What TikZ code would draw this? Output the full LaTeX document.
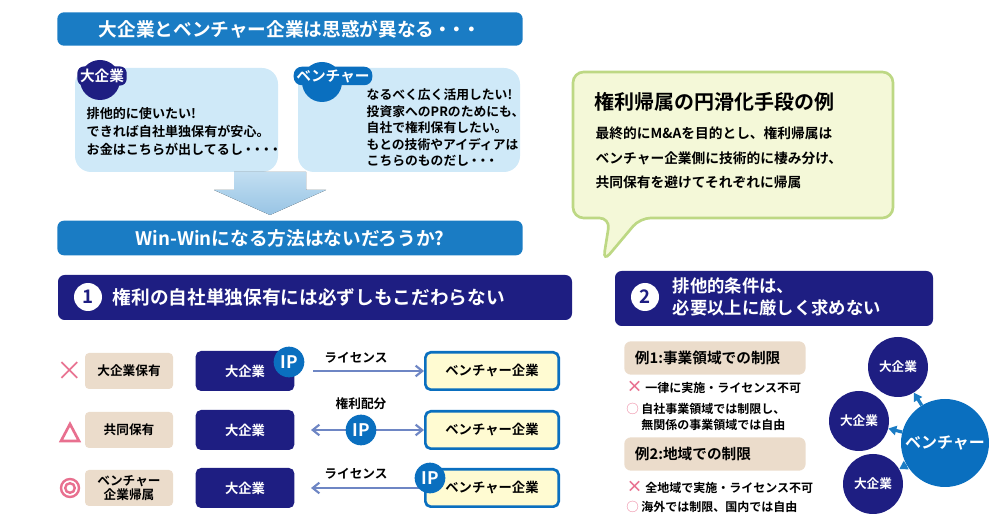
\documentclass[tikz,border=0pt]{standalone}
\usetikzlibrary{arrows.meta}
\usepackage{fontspec}
\setmainfont{Noto Sans CJK JP}
\newfontfamily\jpb{Noto Sans CJK JP Bold}
\definecolor{tblue}{HTML}{1A7CC4}
\definecolor{navy}{HTML}{1E1E82}
\definecolor{lblue}{HTML}{CFE9F8}
\definecolor{beige}{HTML}{EBDCCB}
\definecolor{ylw}{HTML}{FFFBD2}
\definecolor{gfill}{HTML}{F4F8D8}
\definecolor{gline}{HTML}{BDD884}
\definecolor{pink}{HTML}{E8708F}
\definecolor{arr}{HTML}{6E86C4}
\definecolor{ipblue}{HTML}{0A6FBF}
\begin{document}
\begin{tikzpicture}[x=0.75pt,y=-0.75pt,font=\jpb,
 bar/.style={fill=tblue,rounded corners=5pt,text=white,font=\jpb\fontsize{14}{16}\selectfont},
 bub/.style={fill=lblue,rounded corners=12pt},
 bg/.style={fill=beige,rounded corners=3pt,minimum width=66pt,minimum height=27pt,font=\jpb\fontsize{9.5}{10.5}\selectfont,align=center},
 nv/.style={fill=navy,rounded corners=4pt,text=white,minimum width=74pt,minimum height=30pt,font=\jpb\fontsize{10}{11}\selectfont},
 yb/.style={fill=ylw,draw=ipblue,line width=2pt,rounded corners=4pt,minimum width=100pt,minimum height=28pt,font=\jpb\fontsize{10}{11}\selectfont},
 ip/.style={circle,fill=ipblue,text=white,inner sep=0pt,minimum size=23pt,font=\jpb\fontsize{13}{14}\selectfont},
 la/.style={arr,line width=1.6pt,-{Straight Barb[length=5pt,width=8pt]}},
 lab/.style={font=\jpb\fontsize{9.5}{11}\selectfont},
 ex/.style={fill=beige,rounded corners=5pt,minimum width=136pt,minimum height=25pt,font=\jpb\fontsize{11}{12}\selectfont,anchor=west,text width=120pt},
 it/.style={anchor=west,font=\jpb\fontsize{9}{11.5}\selectfont,align=left},
 cn/.style={circle,fill=navy,text=white,minimum size=45pt,inner sep=0pt,font=\jpb\fontsize{9.5}{10}\selectfont},
 ca/.style={tblue,line width=2.4pt,-{Triangle[length=6pt,width=7pt]}}]
\useasboundingbox (0,0) rectangle (990,520);
% top
\node[bar,minimum width=349pt,minimum height=25pt] (t1) at (290,29) {大企業とベンチャー企業は思惑が異なる\kern-1pt・\kern-3pt・\kern-3pt・};
\path[bub] (75,68) rectangle (278,172);
\path[bub] (298,68) rectangle (520,172);
\fill[navy] (100,80) circle (20);
\node[fill=navy,text=white,rounded corners=5pt,inner sep=2pt,font=\jpb\fontsize{11}{12}\selectfont] (b1) at (102,76) {大企業};
\fill[ipblue] (322,82) circle (20);
\node[fill=ipblue,text=white,rounded corners=6pt,inner sep=2pt,font=\jpb\fontsize{11}{12}\selectfont] (b2) at (333,76) {ベンチャー};
\node[anchor=north west,align=left,font=\jpb\fontsize{9.8}{13.5}\selectfont] (q1) at (82,103) {排他的に使いたい!\\できれば自社単独保有が安心。\\お金はこちらが出してるし\kern-1pt・\kern-3pt・\kern-3pt・\kern-3pt・};
\node[anchor=north west,align=left,font=\jpb\fontsize{9.6}{12.4}\selectfont] (q2) at (362,84) {なるべく広く活用したい!\\投資家へのPRのためにも、\\自社で権利保有したい。\\もとの技術やアイディアは\\こちらのものだし\kern-1pt・\kern-3pt・\kern-3pt・};
\fill[top color=lblue!70!tblue!60,bottom color=tblue!45] (234,172) -- (306,172) -- (306,190) -- (326,190) -- (270,215) -- (214,190) -- (234,190) -- cycle;
\node[bar,minimum width=349pt,minimum height=26pt] (t2) at (290,238) {Win-Winになる方法はないだろうか?};
% callout
\draw[gline,fill=gfill,line width=2pt,rounded corners=8pt] (573,72) -- (893,72) -- (893,218) -- (640,218) -- (603,262) -- (610,218) -- (573,218) -- cycle;
\node[anchor=west,font=\jpb\fontsize{15}{17}\selectfont] (ct) at (590,102) {権利帰属の円滑化手段の例};
\node[anchor=north west,align=left,font=\jpb\fontsize{10.3}{18.5}\selectfont] (cb) at (591,122) {最終的にM\&Aを目的とし、権利帰属は\\ベンチャー企業側に技術的に棲み分け、\\共同保有を避けてそれぞれに帰属};
% section 1
\fill[navy,rounded corners=5pt] (58,275) rectangle (572,320);
\fill[white] (88,297) circle (14);
\node[text=navy,font=\jpb\fontsize{14}{15}\selectfont] (n1) at (88,297) {1};
\node[anchor=west,text=white,font=\jpb\fontsize{14}{16}\selectfont] (s1) at (108,297) {権利の自社単独保有には必ずしもこだわらない};
% section 2
\fill[navy,rounded corners=5pt] (615,271) rectangle (933,326);
\fill[white] (645,297) circle (14);
\node[text=navy,font=\jpb\fontsize{14}{15}\selectfont] (n2) at (645,297) {2};
\node[anchor=west,align=left,text=white,font=\jpb\fontsize{13}{16}\selectfont] (s2) at (668,297) {排他的条件は、\\必要以上に厳しく求めない};
% rows
\node[text=pink,font=\fontsize{20}{20}\selectfont] (m1) at (70,371) {×};
\node[bg] (g1) at (129,371) {大企業保有};
\node[nv] (a1) at (245,371) {大企業};
\node[ip] (i1) at (289,362) {IP};
\node[yb] (v1) at (492,371) {ベンチャー企業};
\coordinate (s1a) at (313,371);
\draw[la] (s1a) -- (v1.west);
\node[lab] (l1) at (356,358) {ライセンス};

\draw[pink,line width=2pt] (61,441) -- (70,424) -- (79,441) -- cycle;
\node[bg] (g2) at (129,430) {共同保有};
\node[nv] (a2) at (245,430) {大企業};
\node[yb] (v2) at (492,430) {ベンチャー企業};
\coordinate (ipc) at (361,430);
\coordinate (a2e) at (311,430);
\draw[la] (ipc) -- (a2e);
\draw[la] (ipc) -- (v2.west);
\node[ip] (i2) at (ipc) {IP};
\node[lab] (l2) at (361,404) {権利配分};

\draw[pink,line width=1.8pt] (70,488) circle (9);
\draw[pink,line width=1.8pt] (70,488) circle (4.8);
\node[bg] (g3) at (129,488) {ベンチャー\\企業帰属};
\node[nv] (a3) at (245,488) {大企業};
\node[yb] (v3) at (492,488) {ベンチャー企業};
\coordinate (a3e) at (311,488);
\draw[la] (v3.west) -- (a3e);
\node[ip] (i3) at (430,478) {IP};
\node[lab] (l3) at (356,474) {ライセンス};
% right examples
\node[ex] (e1) at (624,358) {例1:事業領域での制限};
\node[it] (x1) at (622,387) {\textcolor{pink}{\fontsize{12}{12}\selectfont ×}\ 一律に実施・ライセンス不可};
\node[it] (o1) at (622,417) {\textcolor{pink}{◯}\ 自社事業領域では制限し、\\\hphantom{◯\ }無関係の事業領域では自由};
\node[ex] (e2) at (624,454) {例2:地域での制限};
\node[it] (x2) at (622,487) {\textcolor{pink}{\fontsize{12}{12}\selectfont ×}\ 全地域で実施・ライセンス不可};
\node[it] (o2) at (622,507) {\textcolor{pink}{◯}\ 海外では制限、国内では自由};
% circles
\node[cn] (c1) at (898,367) {大企業};
\node[cn] (c2) at (859,421) {大企業};
\node[cn] (c3) at (873,484) {大企業};
\node[circle,fill=ipblue,text=white,minimum size=66pt,inner sep=0pt,font=\jpb\fontsize{12}{13}\selectfont] (vc) at (945,443) {ベンチャー};
\draw[ca] (vc) -- (c1);
\draw[ca] (vc) -- (c2);
\draw[ca] (vc) -- (c3);
\end{tikzpicture}
\end{document}
